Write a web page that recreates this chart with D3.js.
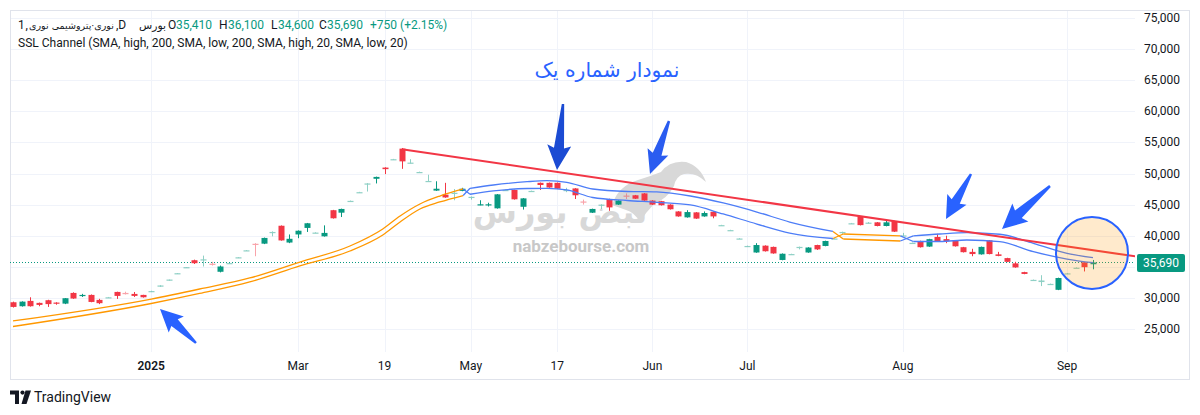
<!DOCTYPE html>
<html><head><meta charset="utf-8">
<script src="https://cdn.jsdelivr.net/npm/d3@7"></script>
<style>
html,body{margin:0;padding:0;background:#fff;}
svg{display:block;font-family:Roboto,"Noto Sans",sans-serif;}
</style></head><body>
<svg id="c" width="1200" height="415"></svg>
<script>
// ---------- DATA ----------
const candleOpen = [29300,28660,29520,29200,29630,29250,29080,30800,30300,30480,
 29680,30050,30960,30800,30640,30480,31000,31800,32800,33900,
 34900,36060,36100,35500,34200,35500,36450,37600,38700,38720,
 40480,41600,38900,40200,41250,40450,39900,44100,43700,45550,
 46950,48300,49150,50950,52250,54000,51650,50200,48700,47250,
 46600,46800,47200,46200,44950,44900,44400,47300,47350,44650,
 47150,48500,48500,48500,47300,47600,45500,43700,44950,45900,
 45000,46450,46500,46800,45650,45550,45000,43900,42950,43750,
 43100,43850,41650,40850,39500,38300,37300,38400,38200,36100,
 37000,38100,37300,38500,38350,39500,40550,41950,43050,42050,
 42150,41560,42350,40000,38800,39150,38250,39800,39450,39250,
 38150,37400,37000,39250,37000,36400,35550,34150,32850,32550,
 32200,31300,33900,34800,35730,35410];
const candleHigh = [29400,29450,30100,29250,29700,29300,29980,30900,30650,30550,
 29850,30150,31000,31000,30950,30500,31150,32050,32950,34000,
 34950,36150,36800,35800,35200,35650,36550,37700,38800,39700,
 40700,41650,40200,40850,42050,40550,41660,44150,44350,45650,
 47050,48450,49500,51000,52350,54100,52300,50300,49800,48750,
 48500,47500,47700,46300,45700,45300,46700,47400,47400,46050,
 47250,48550,48550,48550,47700,47650,45800,44350,45050,45950,
 45700,46800,46550,46850,45700,45600,45050,43950,44100,43800,
 43900,43900,41750,40950,39600,38400,38800,38450,38250,37150,
 37100,38250,38150,38550,39200,39600,40650,42050,43100,42200,
 42200,42500,42400,40450,38900,39200,39500,40300,40000,39300,
 38200,37900,38250,39300,37400,36450,35800,34200,32950,33650,
 32300,33250,34000,34900,35800,36100];
const candleLow = [28450,28600,28600,28660,28550,28900,29000,29850,30150,29300,
 29000,30000,29840,30550,30150,30050,30950,31750,32750,33850,
 34850,35450,35050,35200,34100,35450,36400,37550,36700,38650,
 39900,39200,38800,39600,40600,40400,39850,42750,43000,45500,
 46900,47100,48400,49900,52200,50750,51600,50150,48650,47200,
 46100,45700,47150,45800,44900,44700,44350,47250,45800,44200,
 47100,47350,47700,47500,47000,45900,45000,43650,44300,44000,
 44950,45900,45900,45600,44950,44850,44200,43050,42900,42700,
 43050,42800,41600,40800,39450,38250,37250,37450,37100,36050,
 36950,37800,37250,37700,38300,39450,40300,41900,41650,41950,
 41500,41500,40600,39950,38750,38100,38200,39100,38800,38250,
 37300,36700,36950,37000,36700,35750,34850,33800,32800,31900,
 32150,31250,33850,34750,34250,34600];
const candleClose = [28550,29400,28660,28870,29000,29080,29950,29900,30480,29350,
 29150,30100,30320,30600,30320,30100,31100,32000,32950,33970,
 34940,35580,36200,35300,35050,35600,36530,37650,38600,39640,
 40600,39240,39500,40800,42000,40500,40450,42800,44300,45600,
 47000,48400,49450,50700,52300,51950,51750,50240,48800,47550,
 46150,46900,47550,46250,45050,45050,46650,47350,45850,46000,
 47200,48150,47750,47550,47350,46500,45400,44300,45000,44550,
 45650,46350,45950,45650,45000,44900,44250,43100,43800,42750,
 43650,43100,41700,40900,39550,38350,38500,37500,37150,37100,
 37050,38200,38100,37800,39150,39550,40600,42000,41700,42100,
 41560,42150,40650,40050,38850,38150,39450,39150,39100,38300,
 37350,37050,38200,37050,36750,35800,34900,33850,32900,32800,
 32250,33200,33950,34850,34940,35690];
// candles drawn in a faded tone
const fadedIdx = [11,13,16,17,18,19,20,22,23,25,26,27,28,30,35,39,40,41,44,46,47,48,51,53,57,60,64,66,68,71,82,83,84,85,90,91,95,96,97,99,103,104,118,119,120,122,123];

const priceTicks = [25000,30000,35000,40000,45000,50000,55000,60000,65000,70000,75000];
const timeTickIndex = [16,33,43,53,63,74,85,103,122];
const timeTickLabels = ["2025","Mar","19","May","17","Jun","Jul","Aug","Sep"];

// SSL channel key points: bar index, high-SMA line, low-SMA line, trend
const sslIndex = [0,16,21.6,27.4,33.2,39,42.8,44.8,47.1,49.4,52.1,
  52.9,55.6,59.5,61.8,64.1,67.1,71.1,74.5,78.4,82.2,86.1,89.9,94.9,
  96.1,102.7,
  104.2,107.3,110.4,114.2,118.1,122,125];
const sslHigh = [26290,29820,31430,33200,35770,38340,41080,43170,45100,46380,47510,
  47620,48150,48680,48840,48590,47510,47110,47030,46380,45260,43810,42200,40680,
  40270,39960,
  39960,40270,40480,40230,38780,37170,36460];
const sslLow = [25400,29100,30710,32560,35130,37540,40110,42200,44290,45420,46460,
  46660,47190,47590,47620,47350,46140,45660,45370,44940,43490,41880,40430,39550,
  39470,39150,
  39070,39070,39310,39040,37430,36250,35660];
const sslTrend = ["up","up","up","up","up","up","up","up","up","up","up",
  "dn","dn","dn","dn","dn","dn","dn","dn","dn","dn","dn","dn","dn",
  "up","up",
  "dn","dn","dn","dn","dn","dn","dn"];

const trendIndex = [45, 130];
const trendPrice = [53900, 36650];
const lastPrice = 35690;
const legendValues = {O:"35,410", H:"36,100", L:"34,600", C:"35,690", chg:"+750 (+2.15%)"};

// ---------- LAYOUT ----------
const svg = d3.select("#c");
const plot = {l:10, t:10, r:1135, b:352};
const GREEN = "#089981", RED = "#f23645", ORANGE = "#ff9800", BLUE = "#2962ff";

const x = d3.scaleLinear().domain([0,125]).range([13,1093]);
const y = d3.scaleLinear().domain([25000,75000]).range([329,18]);

// frame
svg.append("rect").attr("x",10.5).attr("y",10.5).attr("width",1179).attr("height",369)
  .attr("fill","#fff").attr("stroke","#e0e3eb");

svg.append("defs").append("clipPath").attr("id","pc").append("rect")
  .attr("x",plot.l).attr("y",plot.t).attr("width",plot.r-plot.l).attr("height",plot.b-plot.t);

// grid
const grid = svg.append("g");
grid.selectAll("line.h").data(priceTicks).join("line")
  .attr("x1",plot.l+1).attr("x2",plot.r).attr("y1",d=>Math.round(y(d))+0.5).attr("y2",d=>Math.round(y(d))+0.5)
  .attr("stroke","#f0f3fa");
grid.selectAll("line.v").data(timeTickIndex).join("line")
  .attr("y1",plot.t+1).attr("y2",plot.b).attr("x1",d=>Math.round(x(d))+0.5).attr("x2",d=>Math.round(x(d))+0.5)
  .attr("stroke","#f0f3fa");

// watermark
const wm = svg.append("g").attr("fill","#d8d8d8");
wm.append("path").attr("d","M612 205 Q618 186 638 180 Q651 176 661 172 Q670 160 686 162 Q700 166 706 182 Q696 172 684 174 Q676 176 674 186 Q668 198 654 204 Q646 212 640 222 Q634 212 626 210 Z");
wm.append("text").attr("x",560).attr("y",223).attr("text-anchor","middle")
  .attr("font-family","DejaVu Sans").attr("font-weight","bold").attr("font-size",32).text("نبض بورس");
wm.append("text").attr("x",581).attr("y",252).attr("text-anchor","middle")
  .attr("font-weight","bold").attr("font-size",17).attr("fill","#c8c8c8").text("nabzebourse.com");

const pg = svg.append("g").attr("clip-path","url(#pc)");

// current price dotted line
pg.append("line").attr("x1",plot.l).attr("x2",plot.r).attr("y1",y(lastPrice)).attr("y2",y(lastPrice))
  .attr("stroke",GREEN).attr("stroke-dasharray","1,2").attr("stroke-width",1);

// candles
const idx = d3.range(candleOpen.length);
const fadedSet = new Set(fadedIdx);
const cg = pg.append("g");
const cand = cg.selectAll("g").data(idx).join("g")
  .attr("opacity",i=>fadedSet.has(i)?0.45:1);
const col = i => candleClose[i]>=candleOpen[i]?GREEN:RED;
cand.append("line")
  .attr("x1",i=>Math.round(x(i))+0.5).attr("x2",i=>Math.round(x(i))+0.5)
  .attr("y1",i=>y(candleHigh[i])).attr("y2",i=>y(candleLow[i]))
  .attr("stroke",col).attr("stroke-width",1);
cand.append("rect")
  .attr("x",i=>Math.round(x(i))-2.5).attr("width",6)
  .attr("y",i=>y(Math.max(candleOpen[i],candleClose[i])))
  .attr("height",i=>Math.max(1.2,Math.abs(y(candleOpen[i])-y(candleClose[i]))))
  .attr("fill",col);

// SSL channel
const sslPts = sslIndex.map((d,i)=>({i:d,h:sslHigh[i],l:sslLow[i],t:sslTrend[i]}));
const groups = [];
sslPts.forEach(p=>{
  if(!groups.length || groups[groups.length-1].t!==p.t) groups.push({t:p.t,pts:[]});
  groups[groups.length-1].pts.push(p);
});
const lineH = d3.line().x(p=>x(p.i)).y(p=>y(p.h)).curve(d3.curveMonotoneX);
const lineL = d3.line().x(p=>x(p.i)).y(p=>y(p.l)).curve(d3.curveMonotoneX);
const sg = pg.append("g").attr("fill","none").attr("stroke-width",1.3);
groups.forEach((g,k)=>{
  const c = g.t==="up"?ORANGE:"#4d7df7";
  sg.append("path").attr("d",lineH(g.pts)).attr("stroke",c);
  sg.append("path").attr("d",lineL(g.pts)).attr("stroke",c);
  if(k>0){
    const a = groups[k-1].pts[groups[k-1].pts.length-1], b = g.pts[0];
    sg.append("line").attr("x1",x(a.i)).attr("y1",y(a.h)).attr("x2",x(b.i)).attr("y2",y(b.l)).attr("stroke",c);
    sg.append("line").attr("x1",x(a.i)).attr("y1",y(a.l)).attr("x2",x(b.i)).attr("y2",y(b.h)).attr("stroke",c);
  }
});

// trend line
pg.append("line").attr("x1",x(trendIndex[0])).attr("y1",y(trendPrice[0]))
  .attr("x2",x(trendIndex[1])).attr("y2",y(trendPrice[1]))
  .attr("stroke",RED).attr("stroke-width",2);

// highlight circle
svg.append("circle").attr("cx",1092).attr("cy",253).attr("r",36)
  .attr("fill","rgba(255,152,0,0.2)").attr("stroke",BLUE).attr("stroke-width",2);

// arrows
function arrow(x1,y1,x2,y2,color,hl,hw){
  const dx=x2-x1, dy=y2-y1, L=Math.hypot(dx,dy), ux=dx/L, uy=dy/L, px=-uy, py=ux;
  const bx=x2-ux*hl, by=y2-uy*hl;
  const wx=x2-ux*hl*1.12, wy=y2-uy*hl*1.12;
  const tw=1.2, sw=hw*0.42;
  const pts=[[x1+px*tw,y1+py*tw],[bx+px*sw,by+py*sw],[wx+px*hw,wy+py*hw],[x2,y2],
    [wx-px*hw,wy-py*hw],[bx-px*sw,by-py*sw],[x1-px*tw,y1-py*tw]];
  svg.append("path").attr("d","M"+pts.map(p=>p.join(",")).join("L")+"Z").attr("fill",color);
}
arrow(563,104,557,170,"#1b4bd3",22,12);
arrow(669,121,650,174,"#2a5cf0",21,11);
arrow(971,174,946,219,BLUE,20,11);
arrow(1050,186,1002,229,BLUE,22,12);
arrow(196,343,160,309,BLUE,20,11);

// annotation title
function fit(sel,w){const n=sel.node();const cur=n.getComputedTextLength();const fs=parseFloat(sel.attr("font-size"));sel.attr("font-size",fs*w/cur);}
const ttl = svg.append("text").attr("x",607).attr("y",77).attr("text-anchor","middle")
  .attr("font-family","DejaVu Sans").attr("font-size",20).attr("fill",BLUE).text("نمودار شماره یک");
fit(ttl,145);

// price axis labels (the current-price badge hides the nearby level)
svg.append("g").selectAll("text").data(priceTicks.filter(d=>Math.abs(y(d)-y(lastPrice))>12)).join("text")
  .attr("x",1144).attr("y",d=>y(d)+4).attr("font-size",12).attr("fill","#131722")
  .text(d=>d3.format(",")(d));
svg.append("rect").attr("x",1137).attr("y",254).attr("width",48).attr("height",18).attr("rx",2).attr("fill",GREEN);
svg.append("text").attr("x",1161).attr("y",267.3).attr("text-anchor","middle").attr("font-size",12)
  .attr("fill","#fff").text(d3.format(",")(lastPrice));

// time axis labels
svg.append("g").selectAll("text").data(timeTickIndex).join("text")
  .attr("x",d=>x(d)).attr("y",370).attr("text-anchor","middle").attr("font-size",12)
  .attr("fill","#131722").attr("font-weight",(d,i)=>timeTickLabels[i]==="2025"?"600":"400")
  .text((d,i)=>timeTickLabels[i]);

// legend
const lg = svg.append("g").attr("font-size",12).attr("fill","#131722");
function lt(xp,yp,t,c,w,fam){const s=lg.append("text").attr("x",xp).attr("y",yp).text(t).attr("font-size",12);if(c)s.attr("fill",c);if(fam)s.attr("font-family",fam);if(w)fit(s,w);return s;}
lt(18,29,"1");
lt(25.5,29,",");
lt(29,29,"نوری·پتروشیمی نوری",null,85,"DejaVu Sans");
lt(116,29,",D");
lt(139,29,"بورس",null,27,"DejaVu Sans");
lt(168,29,"O"); lt(176,29,legendValues.O,GREEN);
lt(219,29,"H"); lt(228,29,legendValues.H,GREEN);
lt(271,29,"L"); lt(278,29,legendValues.L,GREEN);
lt(319,29,"C"); lt(327,29,legendValues.C,GREEN);
lt(370,29,legendValues.chg,GREEN);
lt(18,47,"SSL Channel (SMA, high, 200, SMA, low, 200, SMA, high, 20, SMA, low, 20)",null,390);

// TradingView logo
const tv = svg.append("g").attr("fill","#131722");
tv.append("path").attr("d","M10 390.5 H19 V404 H15 V394.5 H10 Z");
tv.append("circle").attr("cx",22.5).attr("cy",392.6).attr("r",2.1);
tv.append("path").attr("d","M25.5 390.5 H31 L26.5 404 H21.5 Z");
tv.append("text").attr("x",34).attr("y",402).attr("font-size",14).text("TradingView");
</script>
</body></html>
